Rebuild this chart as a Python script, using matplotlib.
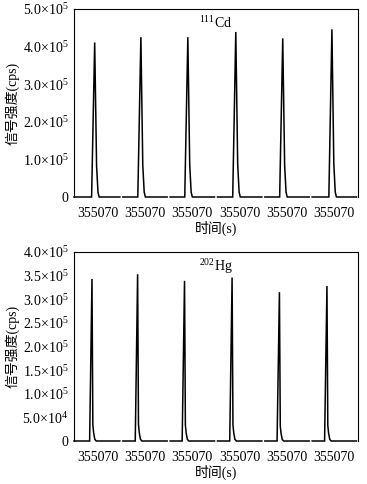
import numpy as np
import matplotlib
matplotlib.use("Agg")
import matplotlib.pyplot as plt

plt.rcParams["font.family"] = ["Liberation Serif", "Noto Sans CJK SC"]
plt.rcParams["mathtext.fontset"] = "custom"
plt.rcParams["mathtext.rm"] = "Liberation Serif"

# six short acquisition windows (broken time axis), all labelled 355070 s
seg_labels = ["355070"] * 6
seg_width = 10.0

# 111Cd peaks: apex position inside each window and apex height (cps)
cd_apex = [4.37, 4.13, 4.05, 4.18, 4.10, 4.49]
cd_height = [4.11e5, 4.25e5, 4.25e5, 4.39e5, 4.22e5, 4.46e5]
cd_shape_dx = [-0.65, 0.0, 0.40, 0.70, 0.95]
cd_shape_frac = [0.0, 1.0, 0.20, 0.03, 0.0]

# 202Hg peaks
hg_apex = [3.80, 3.44, 3.35, 3.40, 3.40, 3.44]
hg_height = [3.43e5, 3.53e5, 3.39e5, 3.46e5, 3.15e5, 3.28e5]
hg_shape_dx = [-0.50, 0.0, 0.18, 0.35, 0.60, 0.90]
hg_shape_frac = [0.0, 1.0, 0.10, 0.05, 0.01, 0.0]

cd_yticks = [0, 1e5, 2e5, 3e5, 4e5, 5e5]
cd_yticklabels = ["0"] + [r"%.1f×10$\mathregular{^{5}}$" % v for v in [1, 2, 3, 4, 5]]
hg_yticks = [0, 0.5e5, 1e5, 1.5e5, 2e5, 2.5e5, 3e5, 3.5e5, 4e5]
hg_yticklabels = ["0", r"5.0×10$\mathregular{^{4}}$"] + \
    [r"%.1f×10$\mathregular{^{5}}$" % v for v in [1.0, 1.5, 2.0, 2.5, 3.0, 3.5, 4.0]]


def draw_panel(ax, apex, height, dx, frac, yticks, yticklabels, ymax, tag):
    gap = 0.32
    for k in range(len(apex)):
        x0 = k * seg_width + (0 if k == 0 else gap)
        x1 = (k + 1) * seg_width - gap
        xs = [x0] + [k * seg_width + apex[k] + d for d in dx] + [x1]
        ys = [0] + [height[k] * f for f in frac] + [0]
        ax.plot(xs, ys, color="black", lw=1.1, clip_on=False, solid_joinstyle="miter")
    ax.set_xlim(0, seg_width * len(apex))
    ax.set_ylim(0, ymax)
    ax.set_xticks([seg_width * (k + 0.5) for k in range(len(apex))])
    ax.set_xticklabels(seg_labels)
    ax.set_yticks(yticks)
    ax.set_yticklabels(yticklabels)
    ax.tick_params(axis="x", length=0, pad=7, labelsize=10)
    ax.tick_params(axis="y", length=0, pad=4, labelsize=10)
    ax.spines["bottom"].set_visible(False)
    for s in ["left", "top", "right"]:
        ax.spines[s].set_linewidth(0.8)
    ax.set_xlabel("时间(s)", fontsize=10)
    ax.xaxis.set_label_coords(0.5, -0.125)
    ax.text(0.5, 0.925, tag, transform=ax.transAxes, ha="center", va="center", fontsize=10)


fig = plt.figure(figsize=(3.67, 4.84), dpi=100)
ax1 = fig.add_axes([74 / 367, 1 - 197 / 484, 284 / 367, 188 / 484])
ax2 = fig.add_axes([74 / 367, 1 - 441 / 484, 284 / 367, 189 / 484])

draw_panel(ax1, cd_apex, cd_height, cd_shape_dx, cd_shape_frac,
           cd_yticks, cd_yticklabels, 5e5, r"$\mathregular{^{111}}$Cd")
draw_panel(ax2, hg_apex, hg_height, hg_shape_dx, hg_shape_frac,
           hg_yticks, hg_yticklabels, 4e5, r"$\mathregular{^{202}}$Hg")

fig.text(12 / 367, 1 - 103 / 484, "信号强度(cps)", rotation=90, ha="center", va="center", fontsize=10)
fig.text(12 / 367, 1 - 346 / 484, "信号强度(cps)", rotation=90, ha="center", va="center", fontsize=10)

fig.savefig("out.png", dpi=100)
